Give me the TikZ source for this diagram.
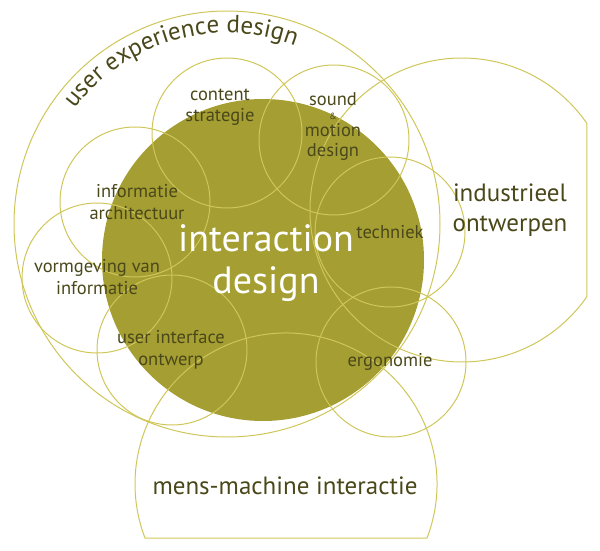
\documentclass[tikz,border=0pt]{standalone}
\usepackage{fontspec}
\setmainfont{PT Sans}
\usetikzlibrary{decorations.text}
\definecolor{olijf}{HTML}{A59E33}
\definecolor{lijn}{HTML}{CFC65A}
\definecolor{tekst}{HTML}{4A481A}

\begin{document}
\begin{tikzpicture}[x=1pt,y=1pt,
  ring/.style={circle,draw=lijn,line width=1pt,minimum size=150pt,inner sep=0pt},
  lbl/.style={text=tekst,align=center,font=\fontsize{18.5}{21.5}\selectfont},
  groot/.style={text=tekst,align=center,font=\fontsize{25}{30}\selectfont}]
 \useasboundingbox (0,0) rectangle (600,550);
 \node[circle,fill=olijf,minimum size=322pt,inner sep=0pt] (idesign) at (263,290) {};
 \node[ring,minimum size=426pt] (ux) at (227,326) {};
 % industrieel ontwerpen, afgesneden aan de rechterkant
 \coordinate (ind) at (462,340);
 \draw[lijn,line width=1pt] (ind) ++(34.7:152) arc[start angle=34.7,end angle=325.3,radius=152] -- cycle;
 % mens-machine interactie, afgesneden aan de onderkant
 \coordinate (mmi) at (286,66);
 \draw[lijn,line width=1pt] (mmi) ++(-21:151) arc[start angle=-21,end angle=201,radius=151] -- cycle;
 \node[ring] (content) at (227,417) {};
 \node[ring] (sound) at (334,410) {};
 \node[ring] (infoarch) at (135,348) {};
 \node[ring] (vormgeving) at (97,272) {};
 \node[ring] (uiontwerp) at (172,200) {};
 \node[ring] (techniek) at (390,318) {};
 \node[ring] (ergonomie) at (391,188) {};
 % teksten
 \path[decorate,decoration={text along path,text align=center,text color=tekst,
   text={|\fontsize{25}{25}\selectfont|user experience design}}]
   (ux.center) ++(152:191) arc[start angle=152,end angle=60,radius=191];
 \node[lbl] (t-content) at (220,443) {content\\strategie};
 \node[lbl,font=\fontsize{18.5}{20}\selectfont] (t-sound) at (333,424) {sound\\[-6pt]{\fontsize{9}{9}\selectfont\&}\\[-3pt]motion\\design};
 \node[lbl] (t-infoarch) at (137,348) {informatie\\architectuur};
 \node[lbl] (t-vormgeving) at (97,273) {vormgeving van\\informatie};
 \node[lbl] (t-uiontwerp) at (171,200) {user interface\\ontwerp};
 \node[lbl] (t-techniek) at (390,318) {techniek};
 \node[lbl] (t-ergonomie) at (390,188) {ergonomie};
 \node[groot] (t-ind) at (510,340) {industrieel\\ontwerpen};
 \node[groot] (t-mmi) at (285,64) {mens-machine interactie};
 \node[text=white,align=center,font=\fontsize{38}{42}\selectfont] (t-idesign) at (266,287) {interaction\\design};
\end{tikzpicture}
\end{document}
